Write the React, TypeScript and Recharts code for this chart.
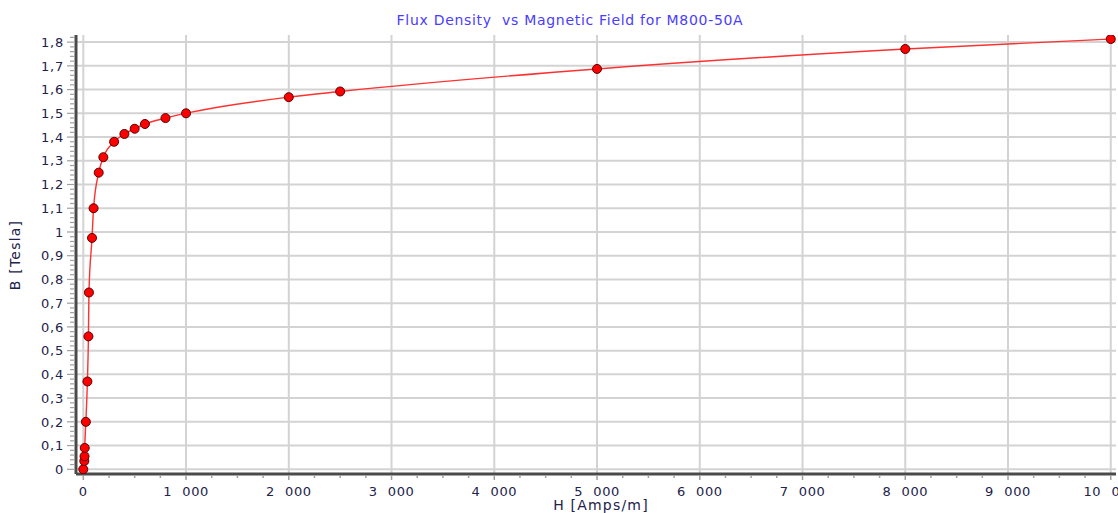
import React from 'react';
import { LineChart, Line, XAxis, YAxis, CartesianGrid } from 'recharts';

// Magnetic field H [A/m]
const H_VALUES = [0, 10, 12, 14, 25, 40, 50, 55, 85, 100, 150, 195, 300, 400, 500, 600, 800, 1000, 2000, 2500, 5000, 8000, 10000];
// Flux density B [T]
const B_VALUES = [0, 0.035, 0.055, 0.09, 0.2, 0.37, 0.56, 0.745, 0.975, 1.1, 1.25, 1.315, 1.38, 1.413, 1.435, 1.455, 1.48, 1.5, 1.568, 1.592, 1.687, 1.771, 1.813];

const X_MAJOR = [0, 1000, 2000, 3000, 4000, 5000, 6000, 7000, 8000, 9000, 10000];
const X_MINOR = Array.from({ length: 41 }, (_, i) => i * 250);
const Y_MAJOR = [0, 0.1, 0.2, 0.3, 0.4, 0.5, 0.6, 0.7, 0.8, 0.9, 1, 1.1, 1.2, 1.3, 1.4, 1.5, 1.6, 1.7, 1.8];
const Y_MINOR = Array.from({ length: 92 }, (_, i) => Math.round(i * 2) / 100);

const TITLE = 'Flux Density \u00a0vs Magnetic Field for M800-50A';
const X_LABEL = 'H [Amps/m]';
const Y_LABEL = 'B [Tesla]';

const data = H_VALUES.map((h, i) => ({ h, b: B_VALUES[i] }));

const FONT = '"DejaVu Sans", Verdana, sans-serif';
const TEXT_COLOR = '#22224a';

const fmtX = (v: number) => {
  if (v === 0) return '0';
  const s = String(v);
  return s.slice(0, s.length - 3) + '\u2002\u2009' + s.slice(s.length - 3);
};
const fmtY = (v: number) => {
  const r = Math.round(v * 10) / 10;
  if (Number.isInteger(r)) return String(r);
  return r.toFixed(1).replace('.', ',');
};

const isMajorX = (v: number) => Math.abs(v % 1000) < 1e-6;
const isMajorY = (v: number) => {
  const t = v * 10;
  return Math.abs(t - Math.round(t)) < 1e-6;
};

const XTick = (props: any) => {
  const { x, y, payload } = props;
  const v = payload.value;
  const major = isMajorX(v);
  return (
    <g>
      <line x1={x} x2={x} y1={y + 1} y2={y + (major ? 6 : 4)} stroke="#a0a0a0" strokeWidth={1.5} />
      {major && (
        <text x={x} y={y + 22} textAnchor="middle" fontFamily={FONT} fontSize={13} letterSpacing={0.6} fill={TEXT_COLOR}>
          {fmtX(v)}
        </text>
      )}
    </g>
  );
};

const YTick = (props: any) => {
  const { x, y, payload } = props;
  const v = payload.value;
  const major = isMajorY(v);
  return (
    <g>
      <line x1={x - (major ? 9 : 6)} x2={x - 2} y1={y} y2={y} stroke="#a0a0a0" strokeWidth={1.2} />
      {major && (
        <text x={x - 12} y={y} dy="0.36em" textAnchor="end" fontFamily={FONT} fontSize={13} letterSpacing={0.8} fill={TEXT_COLOR}>
          {fmtY(v)}
        </text>
      )}
    </g>
  );
};

const X_DOMAIN = [-71, 10051];
const Y_DOMAIN = [-0.0198, 1.83];

export default function App() {
  return (
    <div style={{ position: 'absolute', left: 0, top: 0, width: 1118, height: 513, background: '#ffffff' }}>
      <LineChart width={1118} height={513} data={data} margin={{ top: 35, right: 2, bottom: 0, left: 0 }}>
        <CartesianGrid stroke="#d3d3d3" strokeWidth={2} horizontalValues={Y_MAJOR} verticalValues={X_MAJOR} />
        <XAxis
          type="number"
          dataKey="h"
          domain={X_DOMAIN}
          ticks={X_MINOR}
          interval={0}
          height={39}
          tickLine={false}
          tickSize={0}
          tickMargin={0}
          axisLine={{ stroke: '#4a4a4a', strokeWidth: 3 }}
          tick={<XTick />}
          allowDataOverflow
        />
        <XAxis
          xAxisId="top"
          orientation="top"
          type="number"
          domain={X_DOMAIN}
          height={0}
          tick={false}
          tickLine={false}
          axisLine={{ stroke: '#9a9a9a', strokeWidth: 2 }}
        />
        <YAxis
          type="number"
          domain={Y_DOMAIN}
          ticks={Y_MINOR}
          interval={0}
          width={76}
          tickLine={false}
          tickSize={0}
          tickMargin={0}
          axisLine={{ stroke: '#4a4a4a', strokeWidth: 3 }}
          tick={<YTick />}
          allowDataOverflow
        />
        <YAxis
          yAxisId="right"
          orientation="right"
          type="number"
          domain={Y_DOMAIN}
          width={0}
          tick={false}
          tickLine={false}
          axisLine={{ stroke: '#9a9a9a', strokeWidth: 2 }}
        />
        <Line
          type="monotone"
          dataKey="b"
          stroke="#ff3030"
          strokeWidth={1.4}
          dot={{ r: 4.5, fill: '#ff0000', stroke: '#5a0000', strokeWidth: 1 }}
          isAnimationActive={false}
        />
      </LineChart>
      <svg width={1118} height={513} style={{ position: 'absolute', left: 0, top: 0, pointerEvents: 'none' }}>
        <text x={570} y={25} textAnchor="middle" fontFamily={FONT} fontSize={14} letterSpacing={0.7} fill="#4a3cff" style={{ whiteSpace: 'pre' }}>
          {TITLE}
        </text>
        <text x={601} y={510} textAnchor="middle" fontFamily={FONT} fontSize={14} letterSpacing={1.2} fill={TEXT_COLOR}>
          {X_LABEL}
        </text>
        <text transform="translate(20,255) rotate(-90)" x={0} y={0} textAnchor="middle" fontFamily={FONT} fontSize={14} letterSpacing={1.2} fill={TEXT_COLOR}>
          {Y_LABEL}
        </text>
      </svg>
    </div>
  );
}
